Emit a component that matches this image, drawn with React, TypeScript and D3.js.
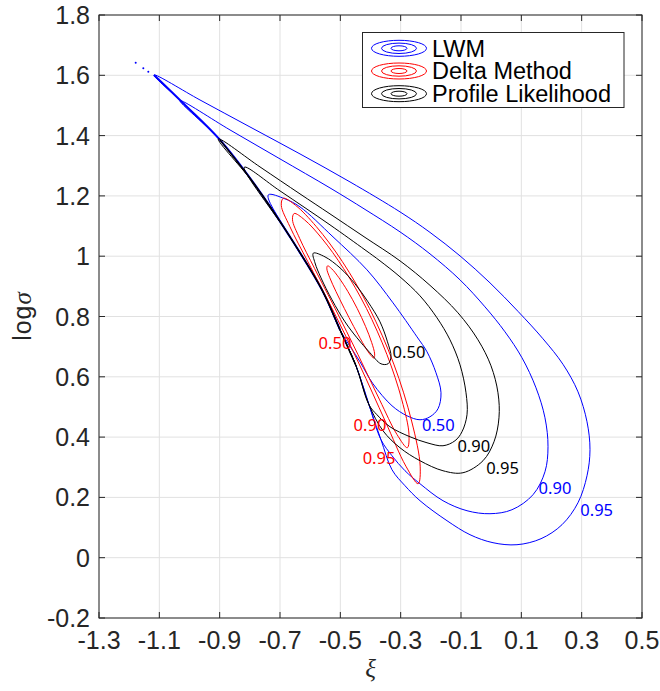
import React from "react";
import * as d3 from "d3";

type P = [number, number];

// axis ticks
const xTicks = [-1.3, -1.1, -0.9, -0.7, -0.5, -0.3, -0.1, 0.1, 0.3, 0.5];
const xTickLabels = ["-1.3", "-1.1", "-0.9", "-0.7", "-0.5", "-0.3", "-0.1", "0.1", "0.3", "0.5"];
const yTicks = [-0.2, 0, 0.2, 0.4, 0.6, 0.8, 1.0, 1.2, 1.4, 1.6, 1.8];
const yTickLabels = ["-0.2", "0", "0.2", "0.4", "0.6", "0.8", "1", "1.2", "1.4", "1.6", "1.8"];

// LWM contours (xi, log sigma)
const blue95: P[] = [
  [-1.1177, 1.6011], [-0.9652, 1.5182], [-0.7995, 1.4287], [-0.6337, 1.3392], [-0.468, 1.2464],
  [-0.3022, 1.147], [-0.2028, 1.079], [-0.1033, 1.0011], [-0.0039, 0.9116], [0.0889, 0.8171],
  [0.1718, 0.726], [0.2381, 0.6414], [0.2878, 0.5503], [0.3177, 0.4508], [0.3276, 0.358],
  [0.3177, 0.2718], [0.2878, 0.1823], [0.2348, 0.1094], [0.1652, 0.063], [0.0856, 0.0431],
  [0.0061, 0.0497], [-0.0702, 0.0763], [-0.1464, 0.1227], [-0.2359, 0.189], [-0.2856, 0.2387],
  [-0.3287, 0.2917], [-0.3652, 0.3912], [-0.405, 0.5072], [-0.4481, 0.6365], [-0.5011, 0.7558],
  [-0.5608, 0.8884], [-0.6669, 1.0641], [-0.7829, 1.2365], [-0.8989, 1.3856], [-1.0149, 1.5017],
];
const blue90: P[] = [
  [-1.0315, 1.5159], [-0.8657, 1.4188], [-0.7, 1.3227], [-0.5343, 1.2265], [-0.4182, 1.1552],
  [-0.3022, 1.0807], [-0.2028, 1.0077], [-0.1033, 0.9215], [-0.0205, 0.832], [0.0458, 0.7492],
  [0.1022, 0.663], [0.1486, 0.5635], [0.1784, 0.4641], [0.1884, 0.368], [0.1784, 0.2851],
  [0.1387, 0.2089], [0.069, 0.1591], [-0.0039, 0.1459], [-0.0801, 0.1558], [-0.1597, 0.189],
  [-0.2359, 0.2453], [-0.2856, 0.2884], [-0.3287, 0.3381], [-0.3652, 0.3912], [-0.405, 0.5072],
  [-0.4481, 0.6365], [-0.5011, 0.7558], [-0.5608, 0.8884], [-0.6669, 1.0641], [-0.7829, 1.2365],
  [-0.8989, 1.3856],
];
const blue50: P[] = [
  [-0.7388, 1.2033], [-0.6834, 1.1901], [-0.6337, 1.1635], [-0.5243, 1.0641], [-0.4116, 0.9547],
  [-0.3254, 0.8453], [-0.2459, 0.7326], [-0.2127, 0.6829], [-0.1829, 0.6133], [-0.1663, 0.547],
  [-0.1763, 0.4939], [-0.2028, 0.4674], [-0.2359, 0.4575], [-0.279, 0.4707], [-0.3287, 0.5039],
  [-0.3917, 0.5768], [-0.4348, 0.6497], [-0.5011, 0.7558], [-0.5608, 0.8884], [-0.6669, 1.0641],
];
const blueTipDots: P[] = [[-1.1783, 1.6419], [-1.1531, 1.6233], [-1.1366, 1.612]];

// shared lower-left boundary where the contours pile up
const ridgeBlue: P[] = [
  [-1.1177, 1.6011], [-1.0149, 1.5017], [-0.8989, 1.3856], [-0.7829, 1.2365], [-0.6669, 1.0641],
  [-0.5608, 0.8884], [-0.5011, 0.7558],
];
const ridgeBlack: P[] = [
  [-0.8989, 1.3856], [-0.7829, 1.2365], [-0.6669, 1.0641], [-0.5608, 0.8884], [-0.5011, 0.7558],
  [-0.4481, 0.6365],
];

// Delta method contours
const red95: P[] = [
  [-0.689, 1.1921], [-0.6483, 1.1686], [-0.5797, 1.0982], [-0.4937, 0.9828], [-0.4035, 0.8268],
  [-0.3227, 0.642], [-0.2637, 0.4532], [-0.2353, 0.3036], [-0.242, 0.2453], [-0.2827, 0.3036],
  [-0.3513, 0.4532], [-0.4373, 0.642], [-0.5275, 0.8268], [-0.6083, 0.9828], [-0.6673, 1.0982],
  [-0.6957, 1.1686],
];
const red90: P[] = [
  [-0.653, 1.1416], [-0.6188, 1.1208], [-0.5613, 1.0592], [-0.4893, 0.9592], [-0.4135, 0.8268],
  [-0.3457, 0.6741], [-0.2961, 0.5235], [-0.2724, 0.4086], [-0.278, 0.3648], [-0.3122, 0.4086],
  [-0.3697, 0.5235], [-0.4417, 0.6741], [-0.5175, 0.8268], [-0.5853, 0.9592], [-0.6349, 1.0592],
  [-0.6586, 1.1208],
];
const red50: P[] = [
  [-0.5424, 0.968], [-0.5283, 0.958], [-0.5048, 0.9287], [-0.4752, 0.8832], [-0.4442, 0.8268],
  [-0.4164, 0.767], [-0.396, 0.7134], [-0.3863, 0.6758], [-0.3886, 0.6623], [-0.4027, 0.6758],
  [-0.4262, 0.7134], [-0.4558, 0.767], [-0.4868, 0.8268], [-0.5146, 0.8832], [-0.535, 0.9287],
  [-0.5447, 0.958],
];

// Profile likelihood contours
const black95: P[] = [
  [-0.9045, 1.389], [-0.7663, 1.2961], [-0.6337, 1.2066], [-0.5343, 1.1403], [-0.4182, 1.0624],
  [-0.3022, 0.9845], [-0.2028, 0.9033], [-0.11, 0.8122], [-0.0437, 0.7227], [-0.0006, 0.6365],
  [0.0226, 0.547], [0.0259, 0.4641], [0.0094, 0.3846], [-0.0271, 0.3216], [-0.0934, 0.2818],
  [-0.1597, 0.2884], [-0.2359, 0.3216], [-0.3022, 0.3646], [-0.3586, 0.421], [-0.405, 0.5072],
  [-0.4481, 0.6365], [-0.5011, 0.7558], [-0.5608, 0.8884], [-0.6669, 1.0641], [-0.7829, 1.2365],
];
const black90: P[] = [
  [-0.8183, 1.2951], [-0.7, 1.2166], [-0.5343, 1.1039], [-0.4182, 1.021], [-0.3685, 0.9845],
  [-0.3022, 0.9315], [-0.2359, 0.8685], [-0.1796, 0.7956], [-0.1365, 0.7227], [-0.1033, 0.6398],
  [-0.0834, 0.547], [-0.0801, 0.4741], [-0.0967, 0.4177], [-0.1199, 0.3879], [-0.1597, 0.3713],
  [-0.2127, 0.3812], [-0.2691, 0.4011], [-0.3354, 0.4343], [-0.3785, 0.4741], [-0.405, 0.5072],
  [-0.4481, 0.6365], [-0.5011, 0.7558], [-0.5608, 0.8884], [-0.6669, 1.0641],
];
const black50: P[] = [
  [-0.5896, 1.0101], [-0.5508, 0.9978], [-0.5011, 0.9613], [-0.4514, 0.9083], [-0.4083, 0.8486],
  [-0.3685, 0.7823], [-0.3437, 0.716], [-0.332, 0.6663], [-0.342, 0.6431], [-0.3652, 0.6431],
  [-0.4017, 0.6796], [-0.4448, 0.7293], [-0.4845, 0.7823], [-0.5276, 0.8553], [-0.5641, 0.9282],
  [-0.584, 0.9779],
];

// contour labels: [text, xi, logσ, colour]
const contourLabels: [string, number, number, string][] = [
  ["0.50", -0.5177, 0.7117, "#ff0000"],
  ["0.90", -0.4017, 0.4409, "#ff0000"],
  ["0.95", -0.3718, 0.3305, "#ff0000"],
  ["0.50", -0.2724, 0.6839, "#000000"],
  ["0.90", -0.0576, 0.369, "#000000"],
  ["0.95", 0.0376, 0.2974, "#000000"],
  ["0.50", -0.1752, 0.4409, "#0000ff"],
  ["0.90", 0.2116, 0.2311, "#0000ff"],
  ["0.95", 0.3498, 0.1591, "#0000ff"],
];

const legendNames = ["LWM", "Delta Method", "Profile Likelihood"];
const seriesColors = ["#0000ff", "#ff0000", "#000000"];

export default function App() {
  const W = 660, H = 691;
  const left = 99, top = 15, pw = 543, ph = 603;
  const x = d3.scaleLinear().domain([-1.3, 0.5]).range([left, left + pw]);
  const y = d3.scaleLinear().domain([-0.2, 1.8]).range([top + ph, top]);
  const line = d3
    .line<P>()
    .x((d) => x(d[0]))
    .y((d) => y(d[1]))
    .curve(d3.curveCatmullRomClosed.alpha(0.5));
  const openLine = d3
    .line<P>()
    .x((d) => x(d[0]))
    .y((d) => y(d[1]))
    .curve(d3.curveCatmullRom.alpha(0.5));

  const groups: P[][][] = [
    [blue95, blue90, blue50],
    [red95, red90, red50],
    [black95, black90, black50],
  ];

  const axisColor = "#262626";
  const gridColor = "#e1e1e1";
  const tickFont = "'Liberation Sans', Arial, sans-serif";
  const tickLen = 6;

  return (
    <svg
      width={W}
      height={H}
      viewBox={`0 0 ${W} ${H}`}
      style={{ position: "absolute", left: 0, top: 0, background: "#fff", display: "block" }}
    >
      <rect x={0} y={0} width={W} height={H} fill="#fff" />
      {/* grid */}
      {xTicks.map((t, i) => (
        <line key={"gx" + i} x1={x(t)} x2={x(t)} y1={top} y2={top + ph} stroke={gridColor} strokeWidth={1} />
      ))}
      {yTicks.map((t, i) => (
        <line key={"gy" + i} x1={left} x2={left + pw} y1={y(t)} y2={y(t)} stroke={gridColor} strokeWidth={1} />
      ))}

      {/* contours */}
      <path d={openLine(ridgeBlue) || ""} fill="none" stroke="#0000ff" strokeWidth={2} />
      {groups.map((g, gi) => (
        <g key={"g" + gi} fill="none" stroke={seriesColors[gi]} strokeWidth={1}>
          {g.map((c, ci) => (
            <path key={ci} d={line(c) || ""} />
          ))}
        </g>
      ))}
      <path d={openLine(ridgeBlack) || ""} fill="none" stroke="#000000" strokeWidth={1.4} />
      {blueTipDots.map((d, i) => (
        <circle key={"dot" + i} cx={x(d[0])} cy={y(d[1])} r={1} fill="#0000ff" />
      ))}

      {/* contour labels */}
      {contourLabels.map(([t, lx, ly, col], i) => (
        <text
          key={"cl" + i}
          x={x(lx)}
          y={y(ly) + 6}
          textAnchor="middle"
          fill={col}
          fontFamily="'Noto Sans', 'Open Sans', sans-serif"
          fontSize={16.5}
        >
          {t}
        </text>
      ))}

      {/* axes box */}
      <rect x={left} y={top} width={pw} height={ph} fill="none" stroke={axisColor} strokeWidth={1} />
      {xTicks.map((t, i) => (
        <g key={"xt" + i}>
          <line x1={x(t)} x2={x(t)} y1={top + ph} y2={top + ph - tickLen} stroke={axisColor} />
          <line x1={x(t)} x2={x(t)} y1={top} y2={top + tickLen} stroke={axisColor} />
          <text x={x(t)} y={649} textAnchor="middle" fontFamily={tickFont} fontSize={25} fill={axisColor}>
            {xTickLabels[i]}
          </text>
        </g>
      ))}
      {yTicks.map((t, i) => (
        <g key={"yt" + i}>
          <line x1={left} x2={left + tickLen} y1={y(t)} y2={y(t)} stroke={axisColor} />
          <line x1={left + pw} x2={left + pw - tickLen} y1={y(t)} y2={y(t)} stroke={axisColor} />
          <text x={90} y={y(t) + 9} textAnchor="end" fontFamily={tickFont} fontSize={25} fill={axisColor}>
            {yTickLabels[i]}
          </text>
        </g>
      ))}

      {/* axis labels */}
      <text
        x={left + pw / 2}
        y={677}
        textAnchor="middle"
        fontFamily="'Liberation Serif', 'DejaVu Serif', serif"
        fontStyle="italic"
        fontSize={25}
        fill={axisColor}
      >
        ξ
      </text>
      <text
        transform={`translate(31,316) rotate(-90)`}
        textAnchor="middle"
        fontSize={25}
        fill={axisColor}
        fontFamily={tickFont}
        letterSpacing={1}
      >
        log
        <tspan fontFamily="'Liberation Serif', 'DejaVu Serif', serif" fontStyle="italic">
          σ
        </tspan>
      </text>

      {/* legend */}
      <rect x={362.5} y={32.5} width={261.5} height={75} fill="#fff" stroke={axisColor} strokeWidth={1} />
      {legendNames.map((name, i) => {
        const cy = 48.3 + i * 22.7;
        return (
          <g key={"lg" + i}>
            <g fill="none" stroke={seriesColors[i]} strokeWidth={1}>
              <ellipse cx={399} cy={cy} rx={27.5} ry={8} />
              <ellipse cx={399} cy={cy} rx={17.5} ry={5.2} />
              <ellipse cx={399} cy={cy} rx={8} ry={2.5} />
            </g>
            <text x={432} y={cy + 8.3} fontFamily={tickFont} fontSize={23.5} fill="#000">
              {name}
            </text>
          </g>
        );
      })}
    </svg>
  );
}
